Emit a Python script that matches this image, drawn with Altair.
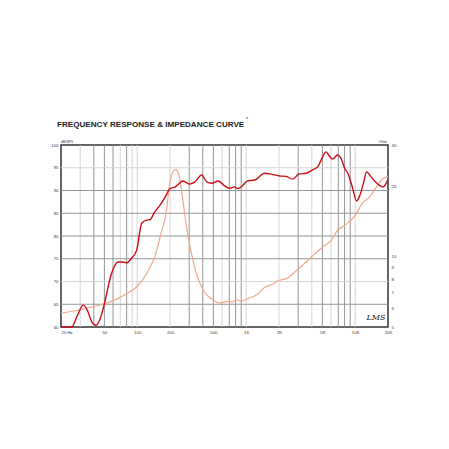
import altair as alt
import pandas as pd

# SPL (dB) curve
spl_freq = [20, 25, 28, 32, 35, 38, 42, 46, 50, 58, 67, 74, 80, 88, 99, 110, 122, 131, 145, 162,
            180, 200, 223, 240, 261, 280, 301, 339, 390, 435, 483, 555, 623, 706, 784, 842, 920,
            1026, 1200, 1478, 1766, 2030, 2330, 2680, 3030, 3560, 4100, 4530, 5030, 5400, 5700,
            6200, 6900, 7400, 8000, 8560, 9400, 10300, 10900, 12000, 12700, 14000, 15300, 16600,
            18000, 20000]
spl_db = [60.0, 60.0, 62.3, 64.8, 63.6, 61.3, 60.4, 62.0, 65.1, 71.7, 74.3, 74.3, 74.1, 75.0, 76.9,
          82.8, 83.5, 83.6, 85.3, 86.8, 88.5, 90.4, 90.8, 91.4, 92.1, 91.8, 91.4, 91.9, 93.4, 91.9,
          91.6, 92.1, 91.2, 90.5, 90.8, 90.4, 91.0, 92.1, 92.3, 93.8, 93.5, 93.2, 93.1, 92.5, 93.6,
          93.8, 94.6, 95.2, 97.4, 98.5, 97.8, 96.9, 97.8, 97.1, 94.9, 93.8, 90.8, 87.7, 88.6, 91.9,
          94.1, 93.0, 91.9, 91.2, 90.8, 92.4]

# Impedance (Ohm) curve
imp_freq = [20, 32, 49, 65, 80, 100, 122, 131, 145, 165, 186, 197, 207, 216, 227, 244, 260, 275,
            306, 350, 405, 483, 574, 686, 736, 818, 912, 1010, 1250, 1480, 1730, 1970, 2330, 2970,
            3970, 5030, 5990, 6900, 8000, 10000, 11600, 13400, 15800, 18100, 20000]
imp_ohm = [5.72, 5.97, 6.27, 6.58, 6.93, 7.47, 8.44, 9.0, 9.96, 12.5, 15.8, 20.0, 22.3, 23.3, 23.6,
           21.9, 18.0, 14.8, 11.0, 8.44, 7.16, 6.58, 6.34, 6.44, 6.39, 6.54, 6.44, 6.58, 6.87, 7.4,
           7.6, 7.9, 8.05, 8.8, 9.96, 11.0, 11.7, 12.96, 13.6, 15.0, 16.9, 17.9, 19.9, 21.6, 21.9]

# grid lines
vgrid_freq = [30, 40, 50, 60, 70, 80, 90, 100, 200, 300, 400, 500, 600, 700, 800, 900,
              1000, 2000, 3000, 4000, 5000, 6000, 7000, 8000, 9000, 10000]
vgrid_shade = ["light", "dark", "dark", "dark", "light", "dark", "light", "light", "light",
               "dark", "dark", "dark", "light", "dark", "dark", "dark", "light", "light",
               "dark", "light", "dark", "light", "dark", "dark", "dark", "light"]
hgrid_db = [95, 90, 85, 80, 75, 70, 65]
hgrid_shade = ["light", "dark", "dark", "dark", "dark", "light", "dark"]

x_ticks = [20, 50, 100, 200, 500, 1000, 2000, 5000, 10000, 20000]
db_ticks = [100, 95, 90, 85, 80, 75, 70, 65, 60]
ohm_ticks = [30, 20, 10, 9, 8, 7, 6, 5]

shade_color = {"light": "#d6d6d6", "dark": "#949494"}

spl_df = pd.DataFrame({"freq": spl_freq, "db": spl_db})
imp_df = pd.DataFrame({"freq": imp_freq, "ohm": imp_ohm})
vg_df = pd.DataFrame({"freq": vgrid_freq, "col": [shade_color[s] for s in vgrid_shade]})
hg_df = pd.DataFrame({"db": hgrid_db, "col": [shade_color[s] for s in hgrid_shade]})

xscale = alt.Scale(type="log", domain=[20, 20000], nice=False)
dbscale = alt.Scale(domain=[60, 100], nice=False, zero=False)
ohmscale = alt.Scale(type="log", domain=[5, 30], nice=False)

label_font = "Liberation Sans"

xaxis = alt.Axis(values=x_ticks, ticks=False, domain=False, grid=False, labelFontSize=4.3,
                 labelFont=label_font, labelColor="#333", labelPadding=3, title=None,
                 labelExpr="datum.value == 20 ? '20 Hz' : (datum.value >= 1000 ? (datum.value/1000) + 'K' : datum.value + '')",
                 labelAlign=alt.expr("datum.value <= 20 ? 'left' : 'center'"))

vgrid = alt.Chart(vg_df).mark_rule(strokeWidth=1).encode(
    x=alt.X("freq:Q", scale=xscale, axis=xaxis),
    color=alt.Color("col:N", scale=None),
)
hgrid = alt.Chart(hg_df).mark_rule(strokeWidth=1).encode(
    y=alt.Y("db:Q", scale=dbscale, axis=None),
    color=alt.Color("col:N", scale=None),
)

imp = alt.Chart(imp_df).mark_line(color="#f0a98a", strokeWidth=1.2, interpolate="monotone").encode(
    x=alt.X("freq:Q", scale=xscale),
    y=alt.Y("ohm:Q", scale=ohmscale,
            axis=alt.Axis(orient="right", values=ohm_ticks, ticks=False, domain=False, grid=False,
                          labelFontSize=4.3, labelFont=label_font, labelColor="#333",
                          labelPadding=3, title=None, format="d")),
)

spl = alt.Chart(spl_df).mark_line(color="#cc0e16", strokeWidth=1.4, interpolate="monotone").encode(
    x=alt.X("freq:Q", scale=xscale),
    y=alt.Y("db:Q", scale=dbscale,
            axis=alt.Axis(orient="left", values=db_ticks, ticks=False, domain=False, grid=False,
                          labelFontSize=4.3, labelFont=label_font, labelColor="#333",
                          labelPadding=3, title=None)),
)

title_df = pd.DataFrame({"t": ["FREQUENCY RESPONSE & IMPEDANCE CURVE"]})
title = alt.Chart(title_df).mark_text(align="left", baseline="alphabetic", fontSize=8.1,
                                      fontWeight="bold", font=label_font, color="#222").encode(
    text="t:N", x=alt.value(-4), y=alt.value(-18))
star = alt.Chart(pd.DataFrame({"t": ["*"]})).mark_text(align="left", baseline="alphabetic",
                                                        fontSize=5, font=label_font, color="#222").encode(
    text="t:N", x=alt.value(185), y=alt.value(-24))
dbl = alt.Chart(pd.DataFrame({"t": ["dB/SPL"]})).mark_text(align="left", baseline="alphabetic",
                                                          fontSize=3.8, font=label_font, color="#333").encode(
    text="t:N", x=alt.value(0), y=alt.value(-2))
ohml = alt.Chart(pd.DataFrame({"t": ["Ohm"]})).mark_text(align="right", baseline="alphabetic",
                                                        fontSize=3.8, font=label_font, color="#333").encode(
    text="t:N", x=alt.value(326), y=alt.value(-2))
lms = alt.Chart(pd.DataFrame({"t": ["LMS"]})).mark_text(align="center", baseline="middle",
                                                       fontSize=8, font="DejaVu Serif", fontStyle="italic",
                                                       color="#222").encode(
    text="t:N", x=alt.value(315), y=alt.value(173))

chart = alt.layer(vgrid, hgrid, imp, spl, title, star, dbl, ohml, lms).resolve_scale(
    y="independent"
).properties(
    width=327, height=182,
    autosize=alt.AutoSizeParams(type="none"),
    padding={"left": 53, "top": 137, "right": 30, "bottom": 40},
    background="white",
).configure_view(stroke="#333", strokeWidth=1.5)

chart.save("out.html", embed_options={"renderer": "svg", "actions": False})
